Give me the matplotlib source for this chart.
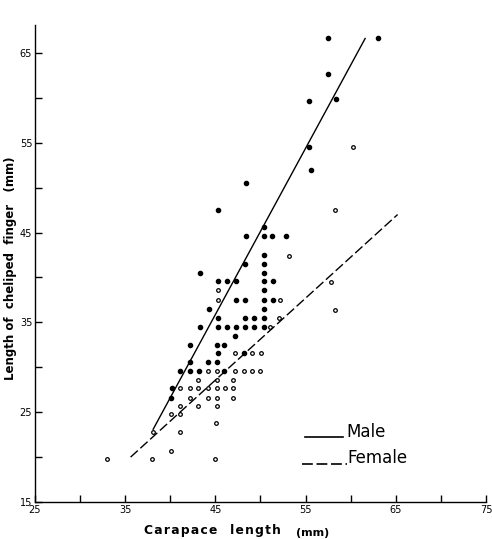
import matplotlib
matplotlib.use("Agg")
import matplotlib.pyplot as plt
from matplotlib.ticker import MultipleLocator

# ---- data ----
male_x = [57.5, 63.0, 57.5, 58.4, 55.4, 55.4, 55.6, 48.4, 45.3, 50.4,
          48.4, 50.4, 51.3, 52.8, 50.4, 48.3, 50.4, 43.3, 50.4,
          45.3, 46.3, 47.3, 50.4, 51.4, 50.4,
          47.3, 48.3, 50.4, 51.4, 44.3, 50.4,
          45.3, 48.3, 49.3, 50.4,
          43.3, 45.3, 46.3, 47.3, 48.3, 49.3, 50.4,
          47.2, 42.2, 45.2, 46.0, 45.3, 48.2,
          42.2, 44.2, 45.2, 41.1, 42.2, 43.2, 46.0, 40.2, 40.1]
male_y = [66.6, 66.6, 62.6, 59.9, 59.6, 54.5, 52.0, 50.5, 47.5, 45.6,
          44.6, 44.6, 44.6, 44.6, 42.5, 41.5, 41.5, 40.5, 40.5,
          39.6, 39.6, 39.6, 39.6, 39.6, 38.6,
          37.5, 37.5, 37.5, 37.5, 36.5, 36.5,
          35.5, 35.5, 35.5, 35.5,
          34.5, 34.5, 34.5, 34.5, 34.5, 34.5, 34.5,
          33.5, 32.5, 32.5, 32.5, 31.6, 31.6,
          30.6, 30.6, 30.6, 29.6, 29.6, 29.6, 29.6, 27.7, 26.6]

female_x = [60.3, 58.3, 53.2, 57.8, 45.3, 45.3, 52.2, 58.3, 52.1, 51.1,
            47.2, 49.1, 50.1,
            44.2, 45.2, 47.2, 48.2, 49.1, 50.0,
            43.1, 45.2, 47.0,
            41.1, 42.2, 43.1, 44.2, 45.2, 46.1, 47.0,
            42.2, 44.2, 45.2, 47.0,
            41.1, 43.1, 45.2, 40.1, 41.1, 45.1,
            38.1, 41.1, 40.1, 33.0, 38.0, 45.0]
female_y = [54.5, 47.5, 42.4, 39.5, 38.6, 37.5, 37.5, 36.4, 35.5, 34.5,
            31.6, 31.6, 31.6,
            29.6, 29.6, 29.6, 29.6, 29.6, 29.6,
            28.6, 28.6, 28.6,
            27.7, 27.7, 27.7, 27.7, 27.7, 27.7, 27.7,
            26.6, 26.6, 26.6, 26.6,
            25.7, 25.7, 25.7, 24.8, 24.8, 23.8,
            22.8, 22.8, 20.7, 19.8, 19.8, 19.8]

male_line_x = [38.1, 61.6]
male_line_y = [23.1, 66.6]
female_line_x = [35.6, 65.2]
female_line_y = [20.0, 47.0]

x_ticks = [25, 35, 45, 55, 65, 75]
y_ticks = [15, 25, 35, 45, 55, 65]

# ---- figure ----
fig = plt.figure(figsize=(4.92, 5.39), dpi=100)
ax = fig.add_axes([0.0711, 0.0686, 0.9167, 0.885])

ax.plot(male_x, male_y, linestyle="none", marker="o", markersize=3.0,
        color="black")
ax.plot(female_x, female_y, linestyle="none", marker="o", markersize=2.6,
        markerfacecolor="white", markeredgecolor="black", markeredgewidth=0.9)

ax.plot(male_line_x, male_line_y, color="black", lw=1.0)
ax.plot(female_line_x, female_line_y, color="black", lw=1.0,
        dashes=(7, 2.5))

ax.set_xlim(25, 75)
ax.set_ylim(15, 68.1)
ax.set_xticks(x_ticks)
ax.set_yticks(y_ticks)
ax.xaxis.set_minor_locator(MultipleLocator(5))
ax.yaxis.set_minor_locator(MultipleLocator(5))
for s in ["top", "right"]:
    ax.spines[s].set_visible(False)
for s in ["left", "bottom"]:
    ax.spines[s].set_linewidth(1.0)
ax.tick_params(which="both", direction="in", length=5, width=1.0,
               labelsize=7, pad=2)

# axis labels
hs = "\u200a"
fig.text(0.570, 0.016,
         hs.join("Carapace") + "   " + hs.join("length"),
         ha="right", va="center", fontsize=8.8, fontweight="bold")
fig.text(0.602, 0.012, "(mm)", ha="left", va="center", fontsize=8,
         fontweight="bold")
fig.text(0.021, 0.503, "Length of  cheliped  finger   (mm)",
         rotation=90, ha="center", va="center", fontsize=8.5,
         fontweight="bold")

# legend drawn by hand
ax.plot([0.599, 0.683], [0.136, 0.136], transform=ax.transAxes,
        color="black", lw=1.2, clip_on=False)
ax.text(0.690, 0.147, "Male", transform=ax.transAxes, fontsize=12,
        ha="left", va="center")
ax.plot([0.592, 0.692], [0.080, 0.080], transform=ax.transAxes,
        color="black", lw=1.2, dashes=(6.5, 2.2), clip_on=False)
ax.text(0.692, 0.092, "Female", transform=ax.transAxes, fontsize=12,
        ha="left", va="center")

fig.savefig("out.png", dpi=100)
